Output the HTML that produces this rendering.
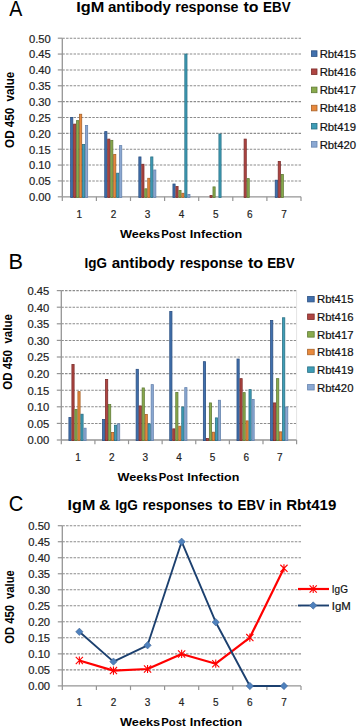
<!DOCTYPE html><html><head><meta charset="utf-8"><style>html,body{margin:0;padding:0;background:#fff;width:358px;height:728px;overflow:hidden}svg{display:block}text{font-family:"Liberation Sans", sans-serif}</style></head><body>
<svg width="358" height="728" viewBox="0 0 358 728">
<rect width="358" height="728" fill="#fff"/>
<line x1="62.30" y1="180.94" x2="301.00" y2="180.94" stroke="#8c8c8c" stroke-width="1.05" stroke-dasharray="2.5 1.25"/>
<line x1="62.30" y1="165.08" x2="301.00" y2="165.08" stroke="#8c8c8c" stroke-width="1.05" stroke-dasharray="2.5 1.25"/>
<line x1="62.30" y1="149.22" x2="301.00" y2="149.22" stroke="#8c8c8c" stroke-width="1.05" stroke-dasharray="2.5 1.25"/>
<line x1="62.30" y1="133.36" x2="301.00" y2="133.36" stroke="#8c8c8c" stroke-width="1.05" stroke-dasharray="2.5 1.25"/>
<line x1="62.30" y1="117.50" x2="301.00" y2="117.50" stroke="#8c8c8c" stroke-width="1.05" stroke-dasharray="2.5 1.25"/>
<line x1="62.30" y1="101.64" x2="301.00" y2="101.64" stroke="#8c8c8c" stroke-width="1.05" stroke-dasharray="2.5 1.25"/>
<line x1="62.30" y1="85.78" x2="301.00" y2="85.78" stroke="#8c8c8c" stroke-width="1.05" stroke-dasharray="2.5 1.25"/>
<line x1="62.30" y1="69.92" x2="301.00" y2="69.92" stroke="#8c8c8c" stroke-width="1.05" stroke-dasharray="2.5 1.25"/>
<line x1="62.30" y1="54.06" x2="301.00" y2="54.06" stroke="#8c8c8c" stroke-width="1.05" stroke-dasharray="2.5 1.25"/>
<line x1="62.30" y1="38.20" x2="301.00" y2="38.20" stroke="#8c8c8c" stroke-width="1.05" stroke-dasharray="2.5 1.25"/>
<line x1="57.80" y1="196.80" x2="62.30" y2="196.80" stroke="#959595" stroke-width="1.2"/>
<text x="50.80" y="201.15" font-size="10" text-anchor="end" fill="#222" textLength="21.80" lengthAdjust="spacingAndGlyphs" stroke="#222" stroke-width="0.18">0.00</text>
<line x1="57.80" y1="180.94" x2="62.30" y2="180.94" stroke="#959595" stroke-width="1.2"/>
<text x="50.80" y="185.29" font-size="10" text-anchor="end" fill="#222" textLength="21.80" lengthAdjust="spacingAndGlyphs" stroke="#222" stroke-width="0.18">0.05</text>
<line x1="57.80" y1="165.08" x2="62.30" y2="165.08" stroke="#959595" stroke-width="1.2"/>
<text x="50.80" y="169.43" font-size="10" text-anchor="end" fill="#222" textLength="21.80" lengthAdjust="spacingAndGlyphs" stroke="#222" stroke-width="0.18">0.10</text>
<line x1="57.80" y1="149.22" x2="62.30" y2="149.22" stroke="#959595" stroke-width="1.2"/>
<text x="50.80" y="153.57" font-size="10" text-anchor="end" fill="#222" textLength="21.80" lengthAdjust="spacingAndGlyphs" stroke="#222" stroke-width="0.18">0.15</text>
<line x1="57.80" y1="133.36" x2="62.30" y2="133.36" stroke="#959595" stroke-width="1.2"/>
<text x="50.80" y="137.71" font-size="10" text-anchor="end" fill="#222" textLength="21.80" lengthAdjust="spacingAndGlyphs" stroke="#222" stroke-width="0.18">0.20</text>
<line x1="57.80" y1="117.50" x2="62.30" y2="117.50" stroke="#959595" stroke-width="1.2"/>
<text x="50.80" y="121.85" font-size="10" text-anchor="end" fill="#222" textLength="21.80" lengthAdjust="spacingAndGlyphs" stroke="#222" stroke-width="0.18">0.25</text>
<line x1="57.80" y1="101.64" x2="62.30" y2="101.64" stroke="#959595" stroke-width="1.2"/>
<text x="50.80" y="105.99" font-size="10" text-anchor="end" fill="#222" textLength="21.80" lengthAdjust="spacingAndGlyphs" stroke="#222" stroke-width="0.18">0.30</text>
<line x1="57.80" y1="85.78" x2="62.30" y2="85.78" stroke="#959595" stroke-width="1.2"/>
<text x="50.80" y="90.13" font-size="10" text-anchor="end" fill="#222" textLength="21.80" lengthAdjust="spacingAndGlyphs" stroke="#222" stroke-width="0.18">0.35</text>
<line x1="57.80" y1="69.92" x2="62.30" y2="69.92" stroke="#959595" stroke-width="1.2"/>
<text x="50.80" y="74.27" font-size="10" text-anchor="end" fill="#222" textLength="21.80" lengthAdjust="spacingAndGlyphs" stroke="#222" stroke-width="0.18">0.40</text>
<line x1="57.80" y1="54.06" x2="62.30" y2="54.06" stroke="#959595" stroke-width="1.2"/>
<text x="50.80" y="58.41" font-size="10" text-anchor="end" fill="#222" textLength="21.80" lengthAdjust="spacingAndGlyphs" stroke="#222" stroke-width="0.18">0.45</text>
<line x1="57.80" y1="38.20" x2="62.30" y2="38.20" stroke="#959595" stroke-width="1.2"/>
<text x="50.80" y="42.55" font-size="10" text-anchor="end" fill="#222" textLength="21.80" lengthAdjust="spacingAndGlyphs" stroke="#222" stroke-width="0.18">0.50</text>
<line x1="62.30" y1="196.80" x2="62.30" y2="201.00" stroke="#959595" stroke-width="1.2"/>
<line x1="96.40" y1="196.80" x2="96.40" y2="201.00" stroke="#959595" stroke-width="1.2"/>
<line x1="130.50" y1="196.80" x2="130.50" y2="201.00" stroke="#959595" stroke-width="1.2"/>
<line x1="164.60" y1="196.80" x2="164.60" y2="201.00" stroke="#959595" stroke-width="1.2"/>
<line x1="198.70" y1="196.80" x2="198.70" y2="201.00" stroke="#959595" stroke-width="1.2"/>
<line x1="232.80" y1="196.80" x2="232.80" y2="201.00" stroke="#959595" stroke-width="1.2"/>
<line x1="266.90" y1="196.80" x2="266.90" y2="201.00" stroke="#959595" stroke-width="1.2"/>
<line x1="301.00" y1="196.80" x2="301.00" y2="201.00" stroke="#959595" stroke-width="1.2"/>
<text x="79.35" y="218.10" font-size="10" text-anchor="middle" fill="#222" stroke="#222" stroke-width="0.18">1</text>
<text x="113.45" y="218.10" font-size="10" text-anchor="middle" fill="#222" stroke="#222" stroke-width="0.18">2</text>
<text x="147.55" y="218.10" font-size="10" text-anchor="middle" fill="#222" stroke="#222" stroke-width="0.18">3</text>
<text x="181.65" y="218.10" font-size="10" text-anchor="middle" fill="#222" stroke="#222" stroke-width="0.18">4</text>
<text x="215.75" y="218.10" font-size="10" text-anchor="middle" fill="#222" stroke="#222" stroke-width="0.18">5</text>
<text x="249.85" y="218.10" font-size="10" text-anchor="middle" fill="#222" stroke="#222" stroke-width="0.18">6</text>
<text x="283.95" y="218.10" font-size="10" text-anchor="middle" fill="#222" stroke="#222" stroke-width="0.18">7</text>
<line x1="62.30" y1="38.20" x2="62.30" y2="196.80" stroke="#959595" stroke-width="1.3"/>
<line x1="62.30" y1="196.80" x2="301.00" y2="196.80" stroke="#959595" stroke-width="1.3"/>
<rect x="70.64" y="117.43" width="2.17" height="79.97" fill="#4170AD" stroke="#2C5082" stroke-width="0.8"/>
<rect x="73.61" y="124.12" width="2.17" height="73.28" fill="#AF4542" stroke="#7C2D2B" stroke-width="0.8"/>
<rect x="76.58" y="120.62" width="2.17" height="76.78" fill="#89AA4C" stroke="#607B36" stroke-width="0.8"/>
<rect x="79.55" y="114.25" width="2.17" height="83.15" fill="#E8893C" stroke="#A86128" stroke-width="0.8"/>
<rect x="82.52" y="144.51" width="2.17" height="52.89" fill="#3E9DB6" stroke="#2B7085" stroke-width="0.8"/>
<rect x="85.49" y="125.40" width="2.17" height="72.00" fill="#8BA8D2" stroke="#6784AE" stroke-width="0.8"/>
<rect x="104.74" y="131.61" width="2.17" height="65.79" fill="#4170AD" stroke="#2C5082" stroke-width="0.8"/>
<rect x="107.71" y="139.10" width="2.17" height="58.30" fill="#AF4542" stroke="#7C2D2B" stroke-width="0.8"/>
<rect x="110.68" y="140.37" width="2.17" height="57.03" fill="#89AA4C" stroke="#607B36" stroke-width="0.8"/>
<rect x="113.65" y="154.39" width="2.17" height="43.01" fill="#E8893C" stroke="#A86128" stroke-width="0.8"/>
<rect x="116.62" y="173.19" width="2.17" height="24.21" fill="#3E9DB6" stroke="#2B7085" stroke-width="0.8"/>
<rect x="119.59" y="145.60" width="2.17" height="51.80" fill="#8BA8D2" stroke="#6784AE" stroke-width="0.8"/>
<rect x="138.84" y="156.94" width="2.17" height="40.46" fill="#4170AD" stroke="#2C5082" stroke-width="0.8"/>
<rect x="141.81" y="164.27" width="2.17" height="33.13" fill="#AF4542" stroke="#7C2D2B" stroke-width="0.8"/>
<rect x="144.78" y="188.80" width="2.17" height="8.60" fill="#89AA4C" stroke="#607B36" stroke-width="0.8"/>
<rect x="147.75" y="178.28" width="2.17" height="19.12" fill="#E8893C" stroke="#A86128" stroke-width="0.8"/>
<rect x="150.72" y="156.94" width="2.17" height="40.46" fill="#3E9DB6" stroke="#2B7085" stroke-width="0.8"/>
<rect x="153.69" y="170.00" width="2.17" height="27.40" fill="#8BA8D2" stroke="#6784AE" stroke-width="0.8"/>
<rect x="172.94" y="184.02" width="2.17" height="13.38" fill="#4170AD" stroke="#2C5082" stroke-width="0.8"/>
<rect x="175.91" y="186.57" width="2.17" height="10.83" fill="#AF4542" stroke="#7C2D2B" stroke-width="0.8"/>
<rect x="178.88" y="190.39" width="2.17" height="7.01" fill="#89AA4C" stroke="#607B36" stroke-width="0.8"/>
<rect x="181.85" y="193.26" width="2.17" height="4.14" fill="#E8893C" stroke="#A86128" stroke-width="0.8"/>
<rect x="184.82" y="54.03" width="2.17" height="143.37" fill="#3E9DB6" stroke="#2B7085" stroke-width="0.8"/>
<rect x="187.79" y="194.53" width="2.17" height="2.87" fill="#8BA8D2" stroke="#6784AE" stroke-width="0.8"/>
<rect x="210.01" y="195.49" width="2.17" height="1.91" fill="#AF4542" stroke="#7C2D2B" stroke-width="0.8"/>
<rect x="212.98" y="186.89" width="2.17" height="10.51" fill="#89AA4C" stroke="#607B36" stroke-width="0.8"/>
<rect x="218.92" y="134.00" width="2.17" height="63.40" fill="#3E9DB6" stroke="#2B7085" stroke-width="0.8"/>
<rect x="244.11" y="139.10" width="2.17" height="58.30" fill="#AF4542" stroke="#7C2D2B" stroke-width="0.8"/>
<rect x="247.08" y="178.60" width="2.17" height="18.80" fill="#89AA4C" stroke="#607B36" stroke-width="0.8"/>
<rect x="275.24" y="180.20" width="2.17" height="17.20" fill="#4170AD" stroke="#2C5082" stroke-width="0.8"/>
<rect x="278.21" y="161.40" width="2.17" height="36.00" fill="#AF4542" stroke="#7C2D2B" stroke-width="0.8"/>
<rect x="281.18" y="174.46" width="2.17" height="22.94" fill="#89AA4C" stroke="#607B36" stroke-width="0.8"/>
<text x="9.26" y="16.40" font-size="22.2" text-anchor="start" fill="#000" textLength="13.08" lengthAdjust="spacingAndGlyphs">A</text>
<text x="76.21" y="11.70" font-size="14" font-weight="bold" text-anchor="start" fill="#000" textLength="28.08" lengthAdjust="spacingAndGlyphs">IgM</text>
<text x="107.96" y="11.70" font-size="14" font-weight="bold" text-anchor="start" fill="#000" textLength="62.92" lengthAdjust="spacingAndGlyphs">antibody</text>
<text x="175.16" y="11.70" font-size="14" font-weight="bold" text-anchor="start" fill="#000" textLength="63.33" lengthAdjust="spacingAndGlyphs">response</text>
<text x="243.41" y="11.70" font-size="14" font-weight="bold" text-anchor="start" fill="#000" textLength="15.02" lengthAdjust="spacingAndGlyphs">to</text>
<text x="263.10" y="11.70" font-size="14" font-weight="bold" text-anchor="start" fill="#000" textLength="27.59" lengthAdjust="spacingAndGlyphs">EBV</text>
<text x="119.99" y="237.50" font-size="11.6" font-weight="bold" text-anchor="start" fill="#000" textLength="40.03" lengthAdjust="spacingAndGlyphs">Weeks</text>
<text x="161.25" y="237.50" font-size="11.6" font-weight="bold" text-anchor="start" fill="#000" textLength="24.39" lengthAdjust="spacingAndGlyphs">Post</text>
<text x="189.76" y="237.50" font-size="11.6" font-weight="bold" text-anchor="start" fill="#000" textLength="52.53" lengthAdjust="spacingAndGlyphs">Infection</text>
<text transform="translate(14.20,109.80) rotate(-90)" x="0" y="0" font-size="12" font-weight="bold" text-anchor="middle" textLength="76.20" lengthAdjust="spacingAndGlyphs">OD 450&#160; value</text>
<line x1="61.30" y1="423.40" x2="296.60" y2="423.40" stroke="#8c8c8c" stroke-width="1.05" stroke-dasharray="2.5 1.25"/>
<line x1="61.30" y1="406.80" x2="296.60" y2="406.80" stroke="#8c8c8c" stroke-width="1.05" stroke-dasharray="2.5 1.25"/>
<line x1="61.30" y1="390.20" x2="296.60" y2="390.20" stroke="#8c8c8c" stroke-width="1.05" stroke-dasharray="2.5 1.25"/>
<line x1="61.30" y1="373.60" x2="296.60" y2="373.60" stroke="#8c8c8c" stroke-width="1.05" stroke-dasharray="2.5 1.25"/>
<line x1="61.30" y1="357.00" x2="296.60" y2="357.00" stroke="#8c8c8c" stroke-width="1.05" stroke-dasharray="2.5 1.25"/>
<line x1="61.30" y1="340.40" x2="296.60" y2="340.40" stroke="#8c8c8c" stroke-width="1.05" stroke-dasharray="2.5 1.25"/>
<line x1="61.30" y1="323.80" x2="296.60" y2="323.80" stroke="#8c8c8c" stroke-width="1.05" stroke-dasharray="2.5 1.25"/>
<line x1="61.30" y1="307.20" x2="296.60" y2="307.20" stroke="#8c8c8c" stroke-width="1.05" stroke-dasharray="2.5 1.25"/>
<line x1="61.30" y1="290.60" x2="296.60" y2="290.60" stroke="#8c8c8c" stroke-width="1.05" stroke-dasharray="2.5 1.25"/>
<line x1="56.80" y1="440.00" x2="61.30" y2="440.00" stroke="#959595" stroke-width="1.2"/>
<text x="49.30" y="444.35" font-size="10" text-anchor="end" fill="#222" textLength="21.80" lengthAdjust="spacingAndGlyphs" stroke="#222" stroke-width="0.18">0.00</text>
<line x1="56.80" y1="423.40" x2="61.30" y2="423.40" stroke="#959595" stroke-width="1.2"/>
<text x="49.30" y="427.75" font-size="10" text-anchor="end" fill="#222" textLength="21.80" lengthAdjust="spacingAndGlyphs" stroke="#222" stroke-width="0.18">0.05</text>
<line x1="56.80" y1="406.80" x2="61.30" y2="406.80" stroke="#959595" stroke-width="1.2"/>
<text x="49.30" y="411.15" font-size="10" text-anchor="end" fill="#222" textLength="21.80" lengthAdjust="spacingAndGlyphs" stroke="#222" stroke-width="0.18">0.10</text>
<line x1="56.80" y1="390.20" x2="61.30" y2="390.20" stroke="#959595" stroke-width="1.2"/>
<text x="49.30" y="394.55" font-size="10" text-anchor="end" fill="#222" textLength="21.80" lengthAdjust="spacingAndGlyphs" stroke="#222" stroke-width="0.18">0.15</text>
<line x1="56.80" y1="373.60" x2="61.30" y2="373.60" stroke="#959595" stroke-width="1.2"/>
<text x="49.30" y="377.95" font-size="10" text-anchor="end" fill="#222" textLength="21.80" lengthAdjust="spacingAndGlyphs" stroke="#222" stroke-width="0.18">0.20</text>
<line x1="56.80" y1="357.00" x2="61.30" y2="357.00" stroke="#959595" stroke-width="1.2"/>
<text x="49.30" y="361.35" font-size="10" text-anchor="end" fill="#222" textLength="21.80" lengthAdjust="spacingAndGlyphs" stroke="#222" stroke-width="0.18">0.25</text>
<line x1="56.80" y1="340.40" x2="61.30" y2="340.40" stroke="#959595" stroke-width="1.2"/>
<text x="49.30" y="344.75" font-size="10" text-anchor="end" fill="#222" textLength="21.80" lengthAdjust="spacingAndGlyphs" stroke="#222" stroke-width="0.18">0.30</text>
<line x1="56.80" y1="323.80" x2="61.30" y2="323.80" stroke="#959595" stroke-width="1.2"/>
<text x="49.30" y="328.15" font-size="10" text-anchor="end" fill="#222" textLength="21.80" lengthAdjust="spacingAndGlyphs" stroke="#222" stroke-width="0.18">0.35</text>
<line x1="56.80" y1="307.20" x2="61.30" y2="307.20" stroke="#959595" stroke-width="1.2"/>
<text x="49.30" y="311.55" font-size="10" text-anchor="end" fill="#222" textLength="21.80" lengthAdjust="spacingAndGlyphs" stroke="#222" stroke-width="0.18">0.40</text>
<line x1="56.80" y1="290.60" x2="61.30" y2="290.60" stroke="#959595" stroke-width="1.2"/>
<text x="49.30" y="294.95" font-size="10" text-anchor="end" fill="#222" textLength="21.80" lengthAdjust="spacingAndGlyphs" stroke="#222" stroke-width="0.18">0.45</text>
<line x1="61.30" y1="440.00" x2="61.30" y2="444.20" stroke="#959595" stroke-width="1.2"/>
<line x1="94.91" y1="440.00" x2="94.91" y2="444.20" stroke="#959595" stroke-width="1.2"/>
<line x1="128.53" y1="440.00" x2="128.53" y2="444.20" stroke="#959595" stroke-width="1.2"/>
<line x1="162.14" y1="440.00" x2="162.14" y2="444.20" stroke="#959595" stroke-width="1.2"/>
<line x1="195.76" y1="440.00" x2="195.76" y2="444.20" stroke="#959595" stroke-width="1.2"/>
<line x1="229.37" y1="440.00" x2="229.37" y2="444.20" stroke="#959595" stroke-width="1.2"/>
<line x1="262.99" y1="440.00" x2="262.99" y2="444.20" stroke="#959595" stroke-width="1.2"/>
<line x1="296.60" y1="440.00" x2="296.60" y2="444.20" stroke="#959595" stroke-width="1.2"/>
<text x="78.11" y="461.20" font-size="10" text-anchor="middle" fill="#222" stroke="#222" stroke-width="0.18">1</text>
<text x="111.72" y="461.20" font-size="10" text-anchor="middle" fill="#222" stroke="#222" stroke-width="0.18">2</text>
<text x="145.34" y="461.20" font-size="10" text-anchor="middle" fill="#222" stroke="#222" stroke-width="0.18">3</text>
<text x="178.95" y="461.20" font-size="10" text-anchor="middle" fill="#222" stroke="#222" stroke-width="0.18">4</text>
<text x="212.56" y="461.20" font-size="10" text-anchor="middle" fill="#222" stroke="#222" stroke-width="0.18">5</text>
<text x="246.18" y="461.20" font-size="10" text-anchor="middle" fill="#222" stroke="#222" stroke-width="0.18">6</text>
<text x="279.79" y="461.20" font-size="10" text-anchor="middle" fill="#222" stroke="#222" stroke-width="0.18">7</text>
<line x1="296.60" y1="290.60" x2="296.60" y2="440.00" stroke="#e4e4e4" stroke-width="1"/>
<line x1="61.30" y1="290.60" x2="61.30" y2="440.00" stroke="#959595" stroke-width="1.3"/>
<line x1="61.30" y1="440.00" x2="296.60" y2="440.00" stroke="#959595" stroke-width="1.3"/>
<rect x="68.91" y="417.55" width="2.20" height="23.05" fill="#4170AD" stroke="#2C5082" stroke-width="0.8"/>
<rect x="71.91" y="364.50" width="2.20" height="76.10" fill="#AF4542" stroke="#7C2D2B" stroke-width="0.8"/>
<rect x="74.91" y="409.40" width="2.20" height="31.20" fill="#89AA4C" stroke="#607B36" stroke-width="0.8"/>
<rect x="77.91" y="391.61" width="2.20" height="48.99" fill="#E8893C" stroke="#A86128" stroke-width="0.8"/>
<rect x="80.91" y="414.22" width="2.20" height="26.38" fill="#3E9DB6" stroke="#2B7085" stroke-width="0.8"/>
<rect x="83.91" y="428.19" width="2.20" height="12.41" fill="#8BA8D2" stroke="#6784AE" stroke-width="0.8"/>
<rect x="102.52" y="419.55" width="2.20" height="21.05" fill="#4170AD" stroke="#2C5082" stroke-width="0.8"/>
<rect x="105.52" y="379.40" width="2.20" height="61.20" fill="#AF4542" stroke="#7C2D2B" stroke-width="0.8"/>
<rect x="108.52" y="404.58" width="2.20" height="36.02" fill="#89AA4C" stroke="#607B36" stroke-width="0.8"/>
<rect x="111.52" y="432.52" width="2.20" height="8.08" fill="#E8893C" stroke="#A86128" stroke-width="0.8"/>
<rect x="114.52" y="425.20" width="2.20" height="15.40" fill="#3E9DB6" stroke="#2B7085" stroke-width="0.8"/>
<rect x="117.52" y="423.87" width="2.20" height="16.73" fill="#8BA8D2" stroke="#6784AE" stroke-width="0.8"/>
<rect x="136.14" y="369.32" width="2.20" height="71.28" fill="#4170AD" stroke="#2C5082" stroke-width="0.8"/>
<rect x="139.14" y="405.91" width="2.20" height="34.69" fill="#AF4542" stroke="#7C2D2B" stroke-width="0.8"/>
<rect x="142.14" y="387.95" width="2.20" height="52.65" fill="#89AA4C" stroke="#607B36" stroke-width="0.8"/>
<rect x="145.14" y="414.39" width="2.20" height="26.21" fill="#E8893C" stroke="#A86128" stroke-width="0.8"/>
<rect x="148.14" y="423.87" width="2.20" height="16.73" fill="#3E9DB6" stroke="#2B7085" stroke-width="0.8"/>
<rect x="151.14" y="384.62" width="2.20" height="55.98" fill="#8BA8D2" stroke="#6784AE" stroke-width="0.8"/>
<rect x="169.75" y="311.45" width="2.20" height="129.15" fill="#4170AD" stroke="#2C5082" stroke-width="0.8"/>
<rect x="172.75" y="428.86" width="2.20" height="11.74" fill="#AF4542" stroke="#7C2D2B" stroke-width="0.8"/>
<rect x="175.75" y="392.41" width="2.20" height="48.19" fill="#89AA4C" stroke="#607B36" stroke-width="0.8"/>
<rect x="178.75" y="426.20" width="2.20" height="14.40" fill="#E8893C" stroke="#A86128" stroke-width="0.8"/>
<rect x="181.75" y="407.01" width="2.20" height="33.59" fill="#3E9DB6" stroke="#2B7085" stroke-width="0.8"/>
<rect x="184.75" y="387.62" width="2.20" height="52.98" fill="#8BA8D2" stroke="#6784AE" stroke-width="0.8"/>
<rect x="203.36" y="361.67" width="2.20" height="78.93" fill="#4170AD" stroke="#2C5082" stroke-width="0.8"/>
<rect x="206.36" y="438.50" width="2.20" height="2.10" fill="#AF4542" stroke="#7C2D2B" stroke-width="0.8"/>
<rect x="209.36" y="402.92" width="2.20" height="37.68" fill="#89AA4C" stroke="#607B36" stroke-width="0.8"/>
<rect x="212.36" y="432.19" width="2.20" height="8.41" fill="#E8893C" stroke="#A86128" stroke-width="0.8"/>
<rect x="215.36" y="417.88" width="2.20" height="22.72" fill="#3E9DB6" stroke="#2B7085" stroke-width="0.8"/>
<rect x="218.36" y="400.26" width="2.20" height="40.34" fill="#8BA8D2" stroke="#6784AE" stroke-width="0.8"/>
<rect x="236.98" y="359.01" width="2.20" height="81.59" fill="#4170AD" stroke="#2C5082" stroke-width="0.8"/>
<rect x="239.98" y="378.64" width="2.20" height="61.96" fill="#AF4542" stroke="#7C2D2B" stroke-width="0.8"/>
<rect x="242.98" y="392.61" width="2.20" height="47.99" fill="#89AA4C" stroke="#607B36" stroke-width="0.8"/>
<rect x="245.98" y="420.88" width="2.20" height="19.72" fill="#E8893C" stroke="#A86128" stroke-width="0.8"/>
<rect x="248.98" y="389.61" width="2.20" height="50.99" fill="#3E9DB6" stroke="#2B7085" stroke-width="0.8"/>
<rect x="251.98" y="399.39" width="2.20" height="41.21" fill="#8BA8D2" stroke="#6784AE" stroke-width="0.8"/>
<rect x="270.59" y="320.43" width="2.20" height="120.17" fill="#4170AD" stroke="#2C5082" stroke-width="0.8"/>
<rect x="273.59" y="402.92" width="2.20" height="37.68" fill="#AF4542" stroke="#7C2D2B" stroke-width="0.8"/>
<rect x="276.59" y="378.64" width="2.20" height="61.96" fill="#89AA4C" stroke="#607B36" stroke-width="0.8"/>
<rect x="279.59" y="431.85" width="2.20" height="8.75" fill="#E8893C" stroke="#A86128" stroke-width="0.8"/>
<rect x="282.59" y="317.77" width="2.20" height="122.83" fill="#3E9DB6" stroke="#2B7085" stroke-width="0.8"/>
<rect x="285.59" y="407.01" width="2.20" height="33.59" fill="#8BA8D2" stroke="#6784AE" stroke-width="0.8"/>
<text x="8.61" y="269.20" font-size="22.2" text-anchor="start" fill="#000" textLength="14.54" lengthAdjust="spacingAndGlyphs">B</text>
<text x="84.60" y="267.70" font-size="14" font-weight="bold" text-anchor="start" fill="#000" textLength="22.44" lengthAdjust="spacingAndGlyphs">IgG</text>
<text x="111.66" y="267.70" font-size="14" font-weight="bold" text-anchor="start" fill="#000" textLength="63.13" lengthAdjust="spacingAndGlyphs">antibody</text>
<text x="179.66" y="267.70" font-size="14" font-weight="bold" text-anchor="start" fill="#000" textLength="63.33" lengthAdjust="spacingAndGlyphs">response</text>
<text x="248.00" y="267.70" font-size="14" font-weight="bold" text-anchor="start" fill="#000" textLength="15.23" lengthAdjust="spacingAndGlyphs">to</text>
<text x="267.21" y="267.70" font-size="14" font-weight="bold" text-anchor="start" fill="#000" textLength="27.49" lengthAdjust="spacingAndGlyphs">EBV</text>
<text x="117.59" y="480.60" font-size="11.6" font-weight="bold" text-anchor="start" fill="#000" textLength="39.93" lengthAdjust="spacingAndGlyphs">Weeks</text>
<text x="158.84" y="480.60" font-size="11.6" font-weight="bold" text-anchor="start" fill="#000" textLength="24.49" lengthAdjust="spacingAndGlyphs">Post</text>
<text x="187.37" y="480.60" font-size="11.6" font-weight="bold" text-anchor="start" fill="#000" textLength="51.91" lengthAdjust="spacingAndGlyphs">Infection</text>
<text transform="translate(11.60,351.90) rotate(-90)" x="0" y="0" font-size="12" font-weight="bold" text-anchor="middle" textLength="75.60" lengthAdjust="spacingAndGlyphs">OD 450&#160; value</text>
<line x1="62.30" y1="669.88" x2="301.00" y2="669.88" stroke="#8c8c8c" stroke-width="1.05" stroke-dasharray="2.5 1.25"/>
<line x1="62.30" y1="653.86" x2="301.00" y2="653.86" stroke="#8c8c8c" stroke-width="1.05" stroke-dasharray="2.5 1.25"/>
<line x1="62.30" y1="637.84" x2="301.00" y2="637.84" stroke="#8c8c8c" stroke-width="1.05" stroke-dasharray="2.5 1.25"/>
<line x1="62.30" y1="621.82" x2="301.00" y2="621.82" stroke="#8c8c8c" stroke-width="1.05" stroke-dasharray="2.5 1.25"/>
<line x1="62.30" y1="605.80" x2="301.00" y2="605.80" stroke="#8c8c8c" stroke-width="1.05" stroke-dasharray="2.5 1.25"/>
<line x1="62.30" y1="589.78" x2="301.00" y2="589.78" stroke="#8c8c8c" stroke-width="1.05" stroke-dasharray="2.5 1.25"/>
<line x1="62.30" y1="573.76" x2="301.00" y2="573.76" stroke="#8c8c8c" stroke-width="1.05" stroke-dasharray="2.5 1.25"/>
<line x1="62.30" y1="557.74" x2="301.00" y2="557.74" stroke="#8c8c8c" stroke-width="1.05" stroke-dasharray="2.5 1.25"/>
<line x1="62.30" y1="541.72" x2="301.00" y2="541.72" stroke="#8c8c8c" stroke-width="1.05" stroke-dasharray="2.5 1.25"/>
<line x1="62.30" y1="525.70" x2="301.00" y2="525.70" stroke="#8c8c8c" stroke-width="1.05" stroke-dasharray="2.5 1.25"/>
<line x1="57.80" y1="685.90" x2="62.30" y2="685.90" stroke="#959595" stroke-width="1.2"/>
<text x="50.10" y="690.25" font-size="10" text-anchor="end" fill="#222" textLength="21.80" lengthAdjust="spacingAndGlyphs" stroke="#222" stroke-width="0.18">0.00</text>
<line x1="57.80" y1="669.88" x2="62.30" y2="669.88" stroke="#959595" stroke-width="1.2"/>
<text x="50.10" y="674.23" font-size="10" text-anchor="end" fill="#222" textLength="21.80" lengthAdjust="spacingAndGlyphs" stroke="#222" stroke-width="0.18">0.05</text>
<line x1="57.80" y1="653.86" x2="62.30" y2="653.86" stroke="#959595" stroke-width="1.2"/>
<text x="50.10" y="658.21" font-size="10" text-anchor="end" fill="#222" textLength="21.80" lengthAdjust="spacingAndGlyphs" stroke="#222" stroke-width="0.18">0.10</text>
<line x1="57.80" y1="637.84" x2="62.30" y2="637.84" stroke="#959595" stroke-width="1.2"/>
<text x="50.10" y="642.19" font-size="10" text-anchor="end" fill="#222" textLength="21.80" lengthAdjust="spacingAndGlyphs" stroke="#222" stroke-width="0.18">0.15</text>
<line x1="57.80" y1="621.82" x2="62.30" y2="621.82" stroke="#959595" stroke-width="1.2"/>
<text x="50.10" y="626.17" font-size="10" text-anchor="end" fill="#222" textLength="21.80" lengthAdjust="spacingAndGlyphs" stroke="#222" stroke-width="0.18">0.20</text>
<line x1="57.80" y1="605.80" x2="62.30" y2="605.80" stroke="#959595" stroke-width="1.2"/>
<text x="50.10" y="610.15" font-size="10" text-anchor="end" fill="#222" textLength="21.80" lengthAdjust="spacingAndGlyphs" stroke="#222" stroke-width="0.18">0.25</text>
<line x1="57.80" y1="589.78" x2="62.30" y2="589.78" stroke="#959595" stroke-width="1.2"/>
<text x="50.10" y="594.13" font-size="10" text-anchor="end" fill="#222" textLength="21.80" lengthAdjust="spacingAndGlyphs" stroke="#222" stroke-width="0.18">0.30</text>
<line x1="57.80" y1="573.76" x2="62.30" y2="573.76" stroke="#959595" stroke-width="1.2"/>
<text x="50.10" y="578.11" font-size="10" text-anchor="end" fill="#222" textLength="21.80" lengthAdjust="spacingAndGlyphs" stroke="#222" stroke-width="0.18">0.35</text>
<line x1="57.80" y1="557.74" x2="62.30" y2="557.74" stroke="#959595" stroke-width="1.2"/>
<text x="50.10" y="562.09" font-size="10" text-anchor="end" fill="#222" textLength="21.80" lengthAdjust="spacingAndGlyphs" stroke="#222" stroke-width="0.18">0.40</text>
<line x1="57.80" y1="541.72" x2="62.30" y2="541.72" stroke="#959595" stroke-width="1.2"/>
<text x="50.10" y="546.07" font-size="10" text-anchor="end" fill="#222" textLength="21.80" lengthAdjust="spacingAndGlyphs" stroke="#222" stroke-width="0.18">0.45</text>
<line x1="57.80" y1="525.70" x2="62.30" y2="525.70" stroke="#959595" stroke-width="1.2"/>
<text x="50.10" y="530.05" font-size="10" text-anchor="end" fill="#222" textLength="21.80" lengthAdjust="spacingAndGlyphs" stroke="#222" stroke-width="0.18">0.50</text>
<line x1="62.30" y1="685.90" x2="62.30" y2="690.10" stroke="#959595" stroke-width="1.2"/>
<line x1="96.40" y1="685.90" x2="96.40" y2="690.10" stroke="#959595" stroke-width="1.2"/>
<line x1="130.50" y1="685.90" x2="130.50" y2="690.10" stroke="#959595" stroke-width="1.2"/>
<line x1="164.60" y1="685.90" x2="164.60" y2="690.10" stroke="#959595" stroke-width="1.2"/>
<line x1="198.70" y1="685.90" x2="198.70" y2="690.10" stroke="#959595" stroke-width="1.2"/>
<line x1="232.80" y1="685.90" x2="232.80" y2="690.10" stroke="#959595" stroke-width="1.2"/>
<line x1="266.90" y1="685.90" x2="266.90" y2="690.10" stroke="#959595" stroke-width="1.2"/>
<line x1="301.00" y1="685.90" x2="301.00" y2="690.10" stroke="#959595" stroke-width="1.2"/>
<text x="79.35" y="705.70" font-size="10" text-anchor="middle" fill="#222" stroke="#222" stroke-width="0.18">1</text>
<text x="113.45" y="705.70" font-size="10" text-anchor="middle" fill="#222" stroke="#222" stroke-width="0.18">2</text>
<text x="147.55" y="705.70" font-size="10" text-anchor="middle" fill="#222" stroke="#222" stroke-width="0.18">3</text>
<text x="181.65" y="705.70" font-size="10" text-anchor="middle" fill="#222" stroke="#222" stroke-width="0.18">4</text>
<text x="215.75" y="705.70" font-size="10" text-anchor="middle" fill="#222" stroke="#222" stroke-width="0.18">5</text>
<text x="249.85" y="705.70" font-size="10" text-anchor="middle" fill="#222" stroke="#222" stroke-width="0.18">6</text>
<text x="283.95" y="705.70" font-size="10" text-anchor="middle" fill="#222" stroke="#222" stroke-width="0.18">7</text>
<line x1="62.30" y1="525.70" x2="62.30" y2="685.90" stroke="#959595" stroke-width="1.3"/>
<line x1="62.30" y1="685.90" x2="301.00" y2="685.90" stroke="#959595" stroke-width="1.3"/>
<polyline points="79.35,660.51 113.45,670.61 147.55,669.01 181.65,653.94 215.75,663.69 249.85,637.59 283.95,568.34" fill="none" stroke="#FF0000" stroke-width="2.2" stroke-linejoin="round"/>
<path d="M75.75,656.91 L82.95,664.11 M82.95,656.91 L75.75,664.11 M79.35,656.41 L79.35,664.61" stroke="#FF0000" stroke-width="1.1" fill="none"/>
<path d="M109.85,667.01 L117.05,674.21 M117.05,667.01 L109.85,674.21 M113.45,666.51 L113.45,674.71" stroke="#FF0000" stroke-width="1.1" fill="none"/>
<path d="M143.95,665.41 L151.15,672.61 M151.15,665.41 L143.95,672.61 M147.55,664.91 L147.55,673.11" stroke="#FF0000" stroke-width="1.1" fill="none"/>
<path d="M178.05,650.34 L185.25,657.54 M185.25,650.34 L178.05,657.54 M181.65,649.84 L181.65,658.04" stroke="#FF0000" stroke-width="1.1" fill="none"/>
<path d="M212.15,660.09 L219.35,667.29 M219.35,660.09 L212.15,667.29 M215.75,659.59 L215.75,667.79" stroke="#FF0000" stroke-width="1.1" fill="none"/>
<path d="M246.25,633.99 L253.45,641.19 M253.45,633.99 L246.25,641.19 M249.85,633.49 L249.85,641.69" stroke="#FF0000" stroke-width="1.1" fill="none"/>
<path d="M280.35,564.74 L287.55,571.94 M287.55,564.74 L280.35,571.94 M283.95,564.24 L283.95,572.44" stroke="#FF0000" stroke-width="1.1" fill="none"/>
<polyline points="79.35,631.82 113.45,661.63 147.55,645.28 181.65,541.73 215.75,622.20 249.85,686.00 283.95,686.00" fill="none" stroke="#1c406f" stroke-width="1.9" stroke-linejoin="round"/>
<path d="M79.35,628.12 L83.05,631.82 L79.35,635.52 L75.65,631.82 Z" fill="#4F81BD" stroke="#385D8A" stroke-width="0.5"/>
<path d="M113.45,657.93 L117.15,661.63 L113.45,665.33 L109.75,661.63 Z" fill="#4F81BD" stroke="#385D8A" stroke-width="0.5"/>
<path d="M147.55,641.58 L151.25,645.28 L147.55,648.98 L143.85,645.28 Z" fill="#4F81BD" stroke="#385D8A" stroke-width="0.5"/>
<path d="M181.65,538.03 L185.35,541.73 L181.65,545.43 L177.95,541.73 Z" fill="#4F81BD" stroke="#385D8A" stroke-width="0.5"/>
<path d="M215.75,618.50 L219.45,622.20 L215.75,625.90 L212.05,622.20 Z" fill="#4F81BD" stroke="#385D8A" stroke-width="0.5"/>
<path d="M249.85,682.30 L253.55,686.00 L249.85,689.70 L246.15,686.00 Z" fill="#4F81BD" stroke="#385D8A" stroke-width="0.5"/>
<path d="M283.95,682.30 L287.65,686.00 L283.95,689.70 L280.25,686.00 Z" fill="#4F81BD" stroke="#385D8A" stroke-width="0.5"/>
<text x="8.77" y="510.60" font-size="22.2" text-anchor="start" fill="#000" textLength="14.60" lengthAdjust="spacingAndGlyphs">C</text>
<text x="67.62" y="509.80" font-size="14" font-weight="bold" text-anchor="start" fill="#000" textLength="27.76" lengthAdjust="spacingAndGlyphs">IgM</text>
<text x="99.09" y="509.80" font-size="14" font-weight="bold" text-anchor="start" fill="#000" textLength="11.61" lengthAdjust="spacingAndGlyphs">&amp;</text>
<text x="115.29" y="509.80" font-size="14" font-weight="bold" text-anchor="start" fill="#000" textLength="22.65" lengthAdjust="spacingAndGlyphs">IgG</text>
<text x="142.58" y="509.80" font-size="14" font-weight="bold" text-anchor="start" fill="#000" textLength="70.10" lengthAdjust="spacingAndGlyphs">responses</text>
<text x="218.31" y="509.80" font-size="14" font-weight="bold" text-anchor="start" fill="#000" textLength="14.49" lengthAdjust="spacingAndGlyphs">to</text>
<text x="237.61" y="509.80" font-size="14" font-weight="bold" text-anchor="start" fill="#000" textLength="27.38" lengthAdjust="spacingAndGlyphs">EBV</text>
<text x="269.10" y="509.80" font-size="14" font-weight="bold" text-anchor="start" fill="#000" textLength="12.68" lengthAdjust="spacingAndGlyphs">in</text>
<text x="286.19" y="509.80" font-size="14" font-weight="bold" text-anchor="start" fill="#000" textLength="50.16" lengthAdjust="spacingAndGlyphs">Rbt419</text>
<text x="119.99" y="726.10" font-size="11.6" font-weight="bold" text-anchor="start" fill="#000" textLength="40.23" lengthAdjust="spacingAndGlyphs">Weeks</text>
<text x="161.25" y="726.10" font-size="11.6" font-weight="bold" text-anchor="start" fill="#000" textLength="24.39" lengthAdjust="spacingAndGlyphs">Post</text>
<text x="189.76" y="726.10" font-size="11.6" font-weight="bold" text-anchor="start" fill="#000" textLength="52.53" lengthAdjust="spacingAndGlyphs">Infection</text>
<text transform="translate(13.60,607.00) rotate(-90)" x="0" y="0" font-size="12" font-weight="bold" text-anchor="middle" textLength="73.50" lengthAdjust="spacingAndGlyphs">OD 450&#160; value</text>
<rect x="311.40" y="50.80" width="5.60" height="5.60" fill="#4170AD" stroke="#2C5082" stroke-width="0.8"/>
<text x="319.67" y="57.90" font-size="10.6" text-anchor="start" fill="#111" textLength="36.40" lengthAdjust="spacingAndGlyphs" stroke="#111" stroke-width="0.2">Rbt415</text>
<rect x="311.40" y="68.95" width="5.60" height="5.60" fill="#AF4542" stroke="#7C2D2B" stroke-width="0.8"/>
<text x="319.67" y="76.05" font-size="10.6" text-anchor="start" fill="#111" textLength="36.42" lengthAdjust="spacingAndGlyphs" stroke="#111" stroke-width="0.2">Rbt416</text>
<rect x="311.40" y="87.10" width="5.60" height="5.60" fill="#89AA4C" stroke="#607B36" stroke-width="0.8"/>
<text x="319.67" y="94.20" font-size="10.6" text-anchor="start" fill="#111" textLength="36.50" lengthAdjust="spacingAndGlyphs" stroke="#111" stroke-width="0.2">Rbt417</text>
<rect x="311.40" y="105.25" width="5.60" height="5.60" fill="#E8893C" stroke="#A86128" stroke-width="0.8"/>
<text x="319.67" y="112.35" font-size="10.6" text-anchor="start" fill="#111" textLength="36.42" lengthAdjust="spacingAndGlyphs" stroke="#111" stroke-width="0.2">Rbt418</text>
<rect x="311.40" y="123.40" width="5.60" height="5.60" fill="#3E9DB6" stroke="#2B7085" stroke-width="0.8"/>
<text x="319.67" y="130.50" font-size="10.6" text-anchor="start" fill="#111" textLength="36.46" lengthAdjust="spacingAndGlyphs" stroke="#111" stroke-width="0.2">Rbt419</text>
<rect x="311.40" y="141.55" width="5.60" height="5.60" fill="#8BA8D2" stroke="#6784AE" stroke-width="0.8"/>
<text x="319.67" y="148.65" font-size="10.6" text-anchor="start" fill="#111" textLength="36.37" lengthAdjust="spacingAndGlyphs" stroke="#111" stroke-width="0.2">Rbt420</text>
<rect x="307.60" y="296.40" width="6.60" height="5.50" fill="#4170AD" stroke="#2C5082" stroke-width="0.8"/>
<text x="316.97" y="303.40" font-size="10.6" text-anchor="start" fill="#111" textLength="36.50" lengthAdjust="spacingAndGlyphs" stroke="#111" stroke-width="0.2">Rbt415</text>
<rect x="307.60" y="314.02" width="6.60" height="5.50" fill="#AF4542" stroke="#7C2D2B" stroke-width="0.8"/>
<text x="316.97" y="321.02" font-size="10.6" text-anchor="start" fill="#111" textLength="36.53" lengthAdjust="spacingAndGlyphs" stroke="#111" stroke-width="0.2">Rbt416</text>
<rect x="307.60" y="331.64" width="6.60" height="5.50" fill="#89AA4C" stroke="#607B36" stroke-width="0.8"/>
<text x="316.97" y="338.64" font-size="10.6" text-anchor="start" fill="#111" textLength="36.60" lengthAdjust="spacingAndGlyphs" stroke="#111" stroke-width="0.2">Rbt417</text>
<rect x="307.60" y="349.26" width="6.60" height="5.50" fill="#E8893C" stroke="#A86128" stroke-width="0.8"/>
<text x="316.97" y="356.26" font-size="10.6" text-anchor="start" fill="#111" textLength="36.52" lengthAdjust="spacingAndGlyphs" stroke="#111" stroke-width="0.2">Rbt418</text>
<rect x="307.60" y="366.88" width="6.60" height="5.50" fill="#3E9DB6" stroke="#2B7085" stroke-width="0.8"/>
<text x="316.97" y="373.88" font-size="10.6" text-anchor="start" fill="#111" textLength="36.57" lengthAdjust="spacingAndGlyphs" stroke="#111" stroke-width="0.2">Rbt419</text>
<rect x="307.60" y="384.50" width="6.60" height="5.50" fill="#8BA8D2" stroke="#6784AE" stroke-width="0.8"/>
<text x="316.97" y="391.50" font-size="10.6" text-anchor="start" fill="#111" textLength="36.47" lengthAdjust="spacingAndGlyphs" stroke="#111" stroke-width="0.2">Rbt420</text>
<line x1="298" y1="589" x2="329" y2="589" stroke="#FF0000" stroke-width="2.2"/>
<path d="M309.60,585.40 L316.80,592.60 M316.80,585.40 L309.60,592.60 M313.20,584.90 L313.20,593.10" stroke="#FF0000" stroke-width="1.1" fill="none"/>
<text x="331.80" y="592.90" font-size="10.6" text-anchor="start" fill="#111" textLength="16.10" lengthAdjust="spacingAndGlyphs" stroke="#111" stroke-width="0.2">IgG</text>
<line x1="298" y1="605.5" x2="329" y2="605.5" stroke="#1c406f" stroke-width="1.9"/>
<path d="M313.20,601.80 L316.90,605.50 L313.20,609.20 L309.50,605.50 Z" fill="#4F81BD" stroke="#385D8A" stroke-width="0.5"/>
<text x="331.80" y="609.90" font-size="10.6" text-anchor="start" fill="#111" textLength="19.00" lengthAdjust="spacingAndGlyphs" stroke="#111" stroke-width="0.2">IgM</text>
</svg></body></html>
